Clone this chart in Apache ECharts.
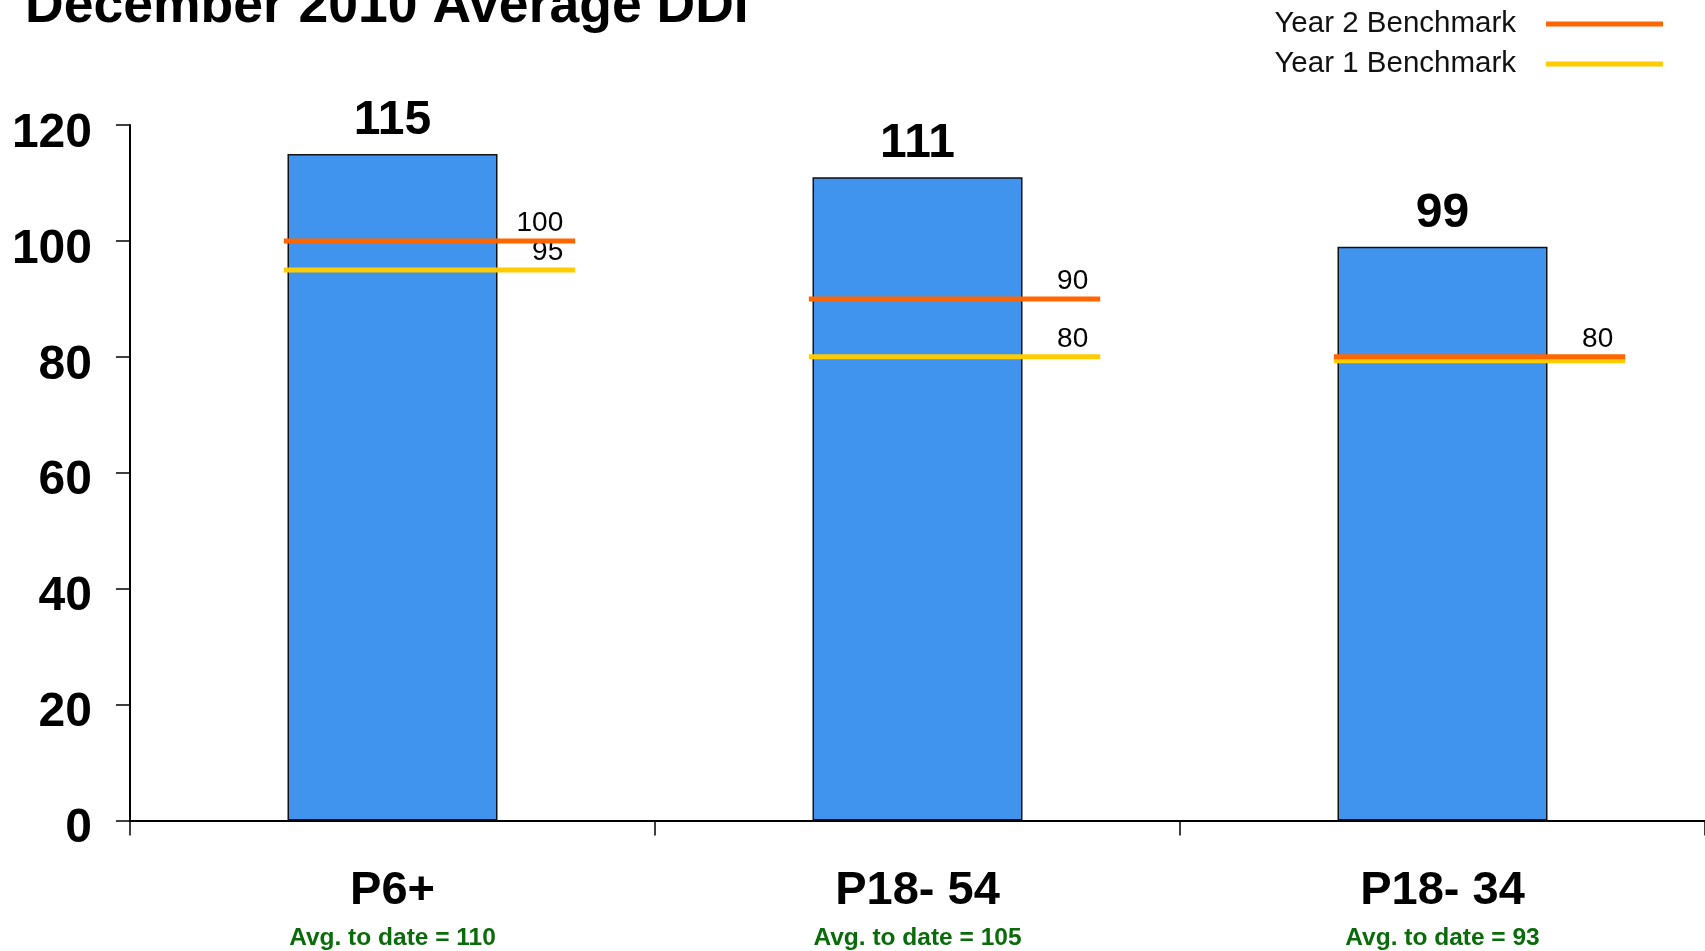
<!DOCTYPE html>
<html>
<head>
<meta charset="utf-8">
<script src="https://cdn.jsdelivr.net/npm/echarts@6/dist/echarts.min.js"></script>
<style>
  html, body { margin: 0; padding: 0; background: #fff; }
  #chart { width: 1705px; height: 951px; }
</style>
</head>
<body>
<div id="chart"></div>
<script>
// Demographic groups and their December 2010 average DDI
const categories = ['P6+', 'P18- 54', 'P18- 34'];
const decemberDDI = [115, 111, 99];
const avgToDate = [110, 105, 93];
// Benchmarks per group
const year2Benchmark = [100, 90, 80];
const year1Benchmark = [95, 80, 80];
const yTicks = [0, 20, 40, 60, 80, 100, 120];

const FONT = "'Liberation Sans', Arial, Helvetica, sans-serif";
const ORANGE = '#ff6600';
const YELLOW = '#ffcc00';

// Draws one benchmark segment per category, with its value written above the right end
function benchmarkRenderer(values, otherValues, color, isLower) {
  return function (params, api) {
    const i = params.dataIndex;
    const v = api.value(1);
    const c = api.coord([api.value(0), v]);
    const band = api.size([1, 0])[0];
    const x1 = c[0] - band * 0.207;
    const x2 = c[0] + band * 0.348;
    const coincides = isLower && otherValues[i] === values[i];
    const y = c[1] + (coincides ? 4 : 0);
    const children = [{
      type: 'line',
      shape: { x1: x1, y1: y, x2: x2, y2: y },
      style: { stroke: color, lineWidth: 5 }
    }];
    if (!coincides) {
      children.push({
        type: 'text',
        style: {
          text: String(values[i]),
          x: x2 - 12, y: y - 4,
          align: 'right', verticalAlign: 'bottom',
          fontSize: 28, fontFamily: FONT, fill: '#000'
        }
      });
    }
    return { type: 'group', children: children };
  };
}

const chart = echarts.init(document.getElementById('chart'), null, { renderer: 'canvas' });

chart.setOption({
  backgroundColor: '#ffffff',
  animation: false,
  title: {
    text: 'December 2010 Average DDI',
    left: 20,
    top: -25,
    textStyle: { fontSize: 53.5, fontWeight: 'bold', fontFamily: FONT, color: '#000' }
  },
  legend: {
    orient: 'vertical',
    right: 37,
    top: 4,
    align: 'right',
    icon: 'rect',
    itemWidth: 117,
    itemHeight: 5,
    itemGap: 10,
    data: ['Year 2 Benchmark', 'Year 1 Benchmark'],
    textStyle: { fontSize: 29.5, fontFamily: FONT, color: '#111', padding: [0, 25, 0, 0], lineHeight: 30 }
  },
  grid: { left: 130, right: 0, top: 125, bottom: 130, containLabel: false },
  xAxis: {
    type: 'category',
    data: categories,
    axisLine: { lineStyle: { color: '#000', width: 2 } },
    axisTick: { show: true, alignWithLabel: false, length: 15, lineStyle: { color: '#000', width: 1.5 } },
    axisLabel: {
      margin: 45,
      interval: 0,
      formatter: function (value, idx) {
        return '{cat|' + value + '}\n{avg|Avg. to date = ' + avgToDate[idx] + '}';
      },
      rich: {
        cat: { fontSize: 47, fontWeight: 'bold', fontFamily: FONT, color: '#000', lineHeight: 52 },
        avg: { fontSize: 24.5, fontWeight: 'bold', fontFamily: FONT, color: '#0a6b0a', lineHeight: 42 }
      }
    }
  },
  yAxis: {
    type: 'value',
    min: yTicks[0],
    max: yTicks[yTicks.length - 1],
    interval: yTicks[1] - yTicks[0],
    splitLine: { show: false },
    axisLine: { show: true, lineStyle: { color: '#000', width: 2 } },
    axisTick: { show: true, length: 14, lineStyle: { color: '#000', width: 1.5 } },
    axisLabel: {
      margin: 38, fontSize: 48, fontWeight: 'bold', fontFamily: FONT, color: '#000',
      verticalAlign: 'top', lineHeight: 17
    }
  },
  series: [
    {
      name: 'December 2010',
      type: 'bar',
      data: decemberDDI,
      barWidth: '40%',
      itemStyle: { color: '#4194ee', borderColor: '#111', borderWidth: 1.5 },
      label: {
        show: true,
        position: 'top',
        distance: 9,
        fontSize: 48,
        fontWeight: 'bold',
        fontFamily: FONT,
        color: '#000'
      },
      z: 2
    },
    {
      name: 'Year 1 Benchmark',
      type: 'custom',
      data: year1Benchmark.map((v, i) => [i, v]),
      encode: { x: 0, y: 1 },
      itemStyle: { color: YELLOW },
      renderItem: benchmarkRenderer(year1Benchmark, year2Benchmark, YELLOW, true),
      z: 3
    },
    {
      name: 'Year 2 Benchmark',
      type: 'custom',
      data: year2Benchmark.map((v, i) => [i, v]),
      encode: { x: 0, y: 1 },
      itemStyle: { color: ORANGE },
      renderItem: benchmarkRenderer(year2Benchmark, year1Benchmark, ORANGE, false),
      z: 4
    }
  ]
});
</script>
</body>
</html>
